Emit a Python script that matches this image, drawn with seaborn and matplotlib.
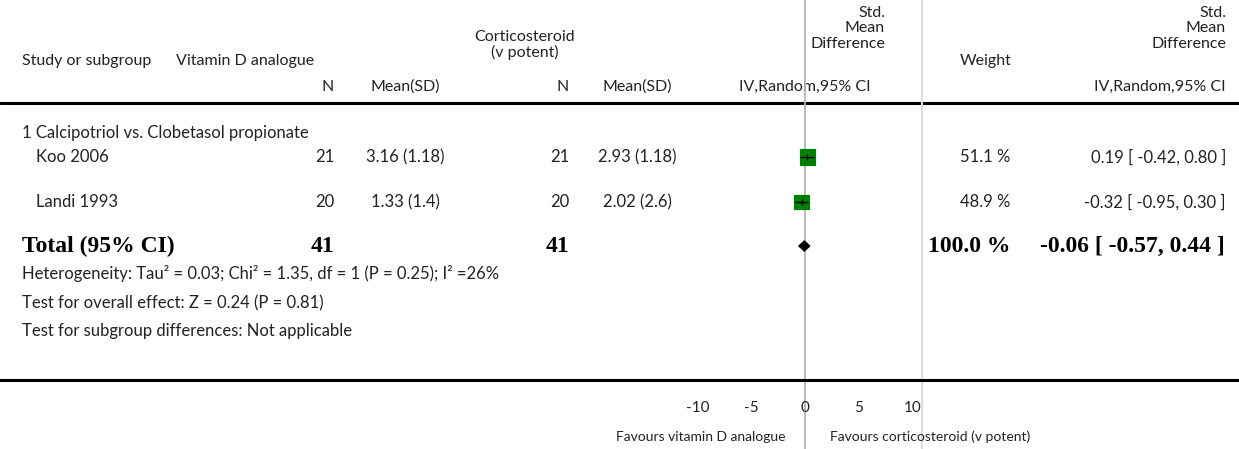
import pandas as pd
import seaborn as sns
import matplotlib.pyplot as plt

# ============================ данные ============================ #
studies = ['Koo 2006', 'Landi 1993']
n_vitd = [21, 20]
mean_vitd = [3.16, 1.33]
sd_vitd = [1.18, 1.4]
n_cort = [21, 20]
mean_cort = [2.93, 2.02]
sd_cort = [1.18, 2.6]
smd = [0.19, -0.32]
ci_low = [-0.42, -0.95]
ci_high = [0.80, 0.30]
weights = [51.1, 48.9]

total_n_vitd = 41
total_n_cort = 41
total_smd = -0.06
total_low = -0.57
total_high = 0.44

x_ticks = [-10, -5, 0, 5, 10]

# ============================ оформление ============================ #
sns.set_style('white')
plt.rcParams['font.family'] = ['Lato', 'DejaVu Sans']
TXT = '#222222'
FS = 12      # строки таблицы
FH = 11.5    # заголовки

fig = plt.figure(figsize=(12.39, 4.49), dpi=100)

# слой с текстом (координаты в пикселях)
tax = fig.add_axes([0, 0, 1, 1])
tax.set_xlim(0, 1239)
tax.set_ylim(449, 0)
tax.axis('off')

# слой с forest plot
fax = fig.add_axes([0, 0, 1, 1], facecolor='none')
px0, ppu = 805, 10.75
fax.set_xlim((0 - px0) / ppu, (1239 - px0) / ppu)
fax.set_ylim(449, 0)

row_y = [157, 202]
total_y = 246

df = pd.DataFrame({'study': studies, 'smd': smd, 'lo': ci_low, 'hi': ci_high,
                   'w': weights, 'row': row_y})

fax.axvline(0, color='#b3b3b3', lw=1.3, zorder=0)
sns.scatterplot(data=df, x='smd', y='row', size='w', size_norm=(0, 100), sizes=(0, 230),
                marker='s', color='#008000', edgecolor='#008000', legend=False, ax=fax, zorder=3)
fax.hlines(df['row'], df['lo'], df['hi'], color='black', lw=1, zorder=4)
fax.plot(df['smd'], df['row'], marker='|', ls='none', color='black', ms=4, mew=1, zorder=4)
fax.fill([total_low, total_smd, total_high, total_smd],
         [total_y, total_y - 5, total_y, total_y + 5], color='black', zorder=4)

for s in ['top', 'left', 'right']:
    fax.spines[s].set_visible(False)
fax.spines['bottom'].set_position(('data', 380))
fax.spines['bottom'].set_linewidth(2.2)
fax.spines['bottom'].set_color('black')
fax.set_xticks(x_ticks)
fax.set_xticklabels([str(t) for t in x_ticks])
fax.tick_params(axis='x', direction='in', length=4, width=2, pad=15,
                labelsize=11, labelcolor=TXT, color='black')
fax.set_yticks([])
fax.set_xlabel('')
fax.set_ylabel('')

tax.axhline(103, color='black', lw=2.2)
tax.axvline(922, color='#dddddd', lw=1.5)


def txt(x, y, s, ha='left', **kw):
    kw.setdefault('fontsize', FS)
    kw.setdefault('color', TXT)
    tax.text(x, y, s, ha=ha, va='center', **kw)


# заголовки
txt(22, 61, 'Study or subgroup', fontsize=FH)
txt(176, 61, 'Vitamin D analogue', fontsize=FH)
txt(525, 37, 'Corticosteroid', ha='center', fontsize=FH)
txt(525, 52, '(v potent)', ha='center', fontsize=FH)
for y, s in zip([13, 28, 44], ['Std.', 'Mean', 'Difference']):
    txt(885, y, s, ha='right', fontsize=FH)
    txt(1226, y, s, ha='right', fontsize=FH)
txt(1012, 61, 'Weight', ha='right', fontsize=FH)
txt(334, 87, 'N', ha='right', fontsize=FH)
txt(405, 87, 'Mean(SD)', ha='center', fontsize=FH)
txt(569, 87, 'N', ha='right', fontsize=FH)
txt(637, 87, 'Mean(SD)', ha='center', fontsize=FH)
txt(805, 87, 'IV,Random,95% CI', ha='center', fontsize=FH)
txt(1226, 87, 'IV,Random,95% CI', ha='right', fontsize=FH)

# строки исследований
txt(22, 133, '1 Calcipotriol vs. Clobetasol propionate')
for i, y in enumerate(row_y):
    txt(36, y, studies[i])
    txt(334, y, str(n_vitd[i]), ha='right')
    txt(405, y, f'{mean_vitd[i]} ({sd_vitd[i]})', ha='center')
    txt(569, y, str(n_cort[i]), ha='right')
    txt(637, y, f'{mean_cort[i]} ({sd_cort[i]})', ha='center')
    txt(1010, y, f'{weights[i]} %', ha='right')
    txt(1226, y, f'{smd[i]:.2f} [ {ci_low[i]:.2f}, {ci_high[i]:.2f} ]', ha='right')

bold = dict(fontsize=17, fontweight='bold', color='black', family='Liberation Serif')
txt(22, total_y, 'Total (95% CI)', **bold)
txt(334, total_y, str(total_n_vitd), ha='right', **bold)
txt(569, total_y, str(total_n_cort), ha='right', **bold)
txt(1010, total_y, f'{sum(weights):.1f} %', ha='right', **bold)
txt(1225, total_y, f'{total_smd:.2f} [ {total_low:.2f}, {total_high:.2f} ]', ha='right', **bold)

txt(22, 274, 'Heterogeneity: Tau² = 0.03; Chi² = 1.35, df = 1 (P = 0.25); I² =26%')
txt(22, 303, 'Test for overall effect: Z = 0.24 (P = 0.81)')
txt(22, 331, 'Test for subgroup differences: Not applicable')

txt(785, 437, 'Favours vitamin D analogue', ha='right', fontsize=10)
txt(830, 437, 'Favours corticosteroid (v potent)', fontsize=10)

fig.savefig('out.png', dpi=100)
